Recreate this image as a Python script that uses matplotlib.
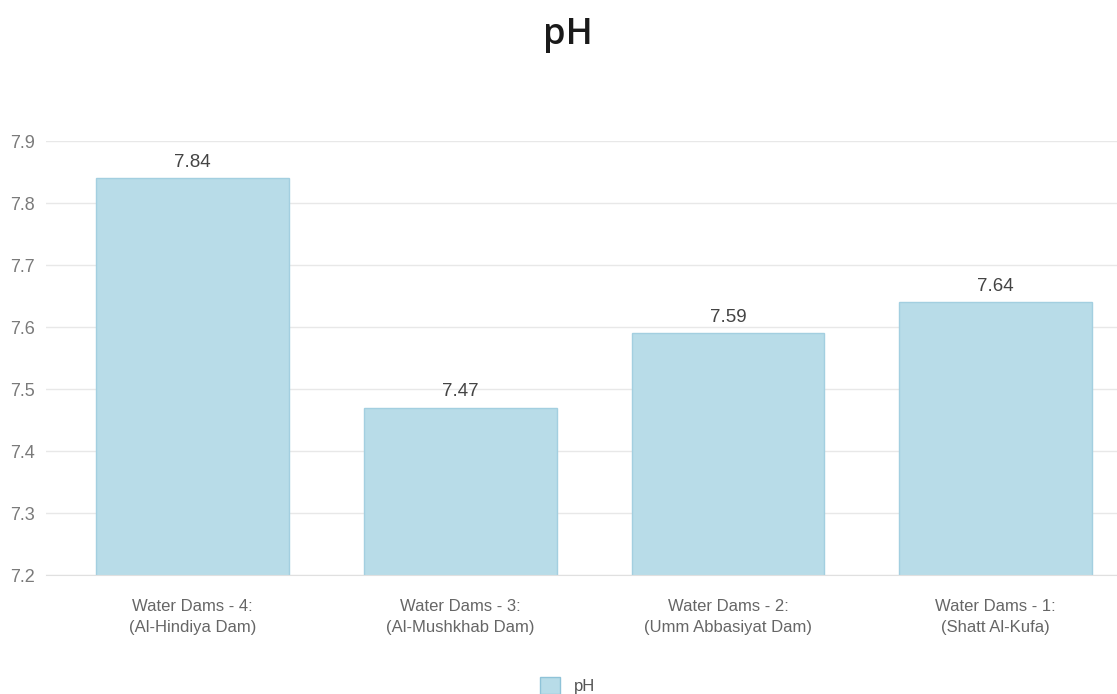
import matplotlib
matplotlib.use("Agg")
import matplotlib.pyplot as plt
from matplotlib.patches import Patch

plt.rcParams["font.family"] = ["Liberation Sans", "DejaVu Sans"]

# data
categories = ["Water Dams - 4:\n(Al-Hindiya Dam)",
              "Water Dams - 3:\n(Al-Mushkhab Dam)",
              "Water Dams - 2:\n(Umm Abbasiyat Dam)",
              "Water Dams - 1:\n(Shatt Al-Kufa)"]
ph_values = [7.84, 7.47, 7.59, 7.64]
y_ticks = [7.2, 7.3, 7.4, 7.5, 7.6, 7.7, 7.8, 7.9]

fig = plt.figure(figsize=(11.17, 6.94), dpi=100)
ax = fig.add_axes([46 / 1117, 1 - 575 / 694, 1071 / 1117, 434 / 694])

x = list(range(len(categories)))
ax.bar(x, ph_values, width=0.72, bottom=0, color="#b8dce8",
       edgecolor="#a3cfe0", linewidth=1, zorder=2)

for xi, v in zip(x, ph_values):
    ax.text(xi, v + 0.012, f"{v:.2f}", ha="center", va="bottom",
            fontsize=13.5, color="#444444")

ax.set_ylim(7.2, 7.9)
ax.set_xlim(-0.547, 3.453)
ax.set_yticks(y_ticks)
ax.set_yticklabels([f"{t:.1f}" for t in y_ticks])
ax.set_xticks(x)
ax.set_xticklabels(categories, fontsize=12, color="#666666", linespacing=1.55)

ax.tick_params(axis="y", length=0, labelsize=13, labelcolor="#7a7a7a", pad=8)
ax.tick_params(axis="x", length=0, pad=17)
ax.grid(axis="y", color="#e8e8e8", linewidth=1, zorder=0)
for side in ["top", "right", "left"]:
    ax.spines[side].set_visible(False)
ax.spines["bottom"].set_color("#e0e0e0")
ax.set_axisbelow(True)

fig.suptitle("pH", x=0.508, y=0.975, fontsize=26, color="#1a1a1a",
             fontfamily="Open Sans", fontweight="semibold")

fig.legend(handles=[Patch(facecolor="#b8dce8", edgecolor="#8fc3d8", label="pH")],
           loc="lower center", bbox_to_anchor=(0.508, -0.022), frameon=False,
           fontsize=12, labelcolor="#555555", handlelength=1.2, handleheight=1.2)

fig.savefig("out.png", dpi=100)
